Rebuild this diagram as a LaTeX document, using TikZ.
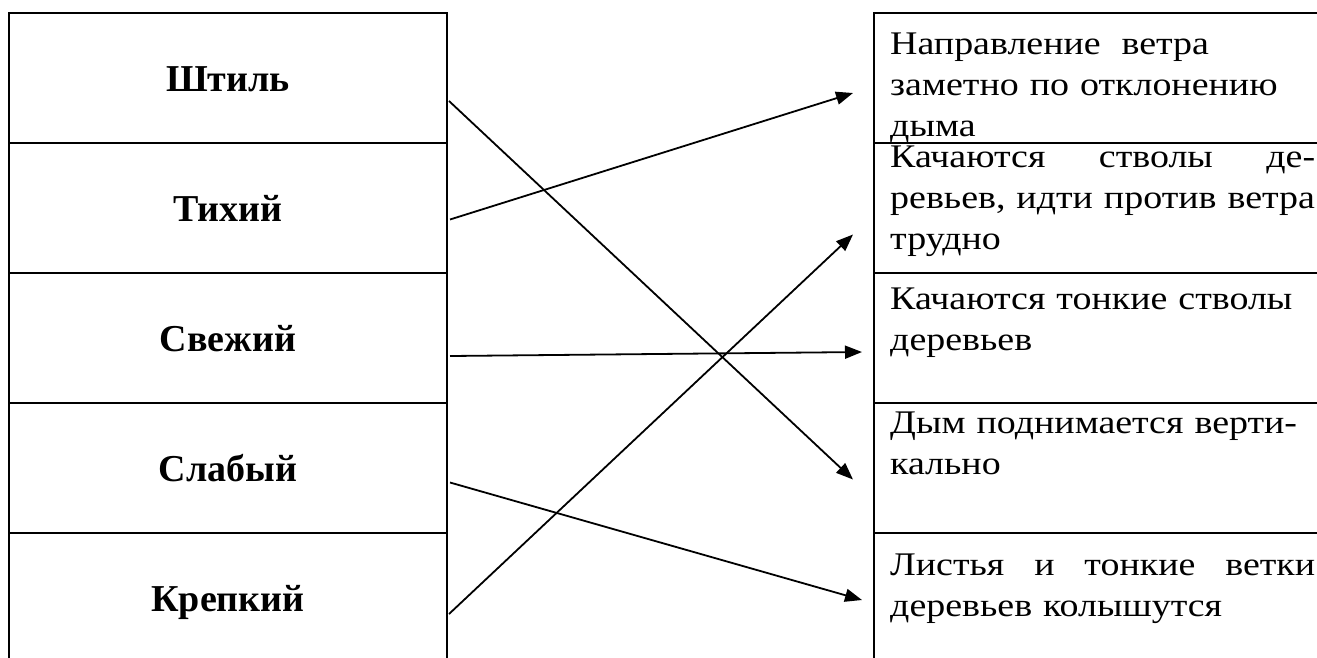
\documentclass[tikz,border=0pt]{standalone}
\usepackage{fontspec}
\setmainfont{Liberation Serif}
\newfontfamily\signfont[FakeStretch=1.15]{Liberation Serif}
\usepackage{tikz}
\usetikzlibrary{arrows.meta, positioning, calc}

\newcommand{\justline}[1]{\makebox[425pt][l]{#1}}

\begin{document}
\begin{tikzpicture}[x=1pt, y=-1pt,
    cell/.style={draw, line width=2pt, rectangle, inner sep=0pt, outer sep=0pt, minimum height=130pt},
    lcell/.style={cell, minimum width=438pt},
    rcell/.style={cell, minimum width=470pt},
    wind/.style={font=\fontsize{38}{44}\selectfont\bfseries, inner sep=0pt, anchor=base},
    sign/.style={font=\signfont\fontsize{33}{41}\selectfont, inner sep=0pt, anchor=north west, text width=425pt, align=left},
    conn/.style={line width=1.8pt, -{Triangle[length=17pt, width=13pt]}}]
                    \useasboundingbox (0,0) rectangle (1317,657);
                    \clip (0,0) rectangle (1317,657);
                    \node[lcell](l1) at (228,78){};
                    \node[lcell, below=0pt of l1](l2){};
                    \node[lcell, below=0pt of l2](l3){};
                    \node[lcell, below=0pt of l3](l4){};
                    \node[lcell, below=0pt of l4](l5){};
                    \node[rcell, right=427pt of l1.east, anchor=west](r1){};
                    \node[rcell, below=0pt of r1](r2){};
                    \node[rcell, below=0pt of r2](r3){};
                    \node[rcell, below=0pt of r3](r4){};
                    \node[rcell, below=0pt of r4](r5){};
                    % wind names
                    \node[wind](w1) at ($(l1)+(0,13)$){Штиль};
                    \node[wind](w2) at ($(l2)+(0,13)$){Тихий};
                    \node[wind](w3) at ($(l3)+(0,13)$){Свежий};
                    \node[wind](w4) at ($(l4)+(0,13)$){Слабый};
                    \node[wind](w5) at ($(l5)+(0,13)$){Крепкий};
                    % signs
                    \node[sign](t1) at ($(r1.north west)+(16,20)$){Направление\hspace{0.3em} ветра\\заметно по отклонению\\дыма};
                    \node[sign](t2) at ($(r2.north west)+(16,3)$){\justline{Качаются\hfill стволы\hfill де-}\\ревьев, идти против ветра\\трудно};
                    \node[sign](t3) at ($(r3.north west)+(16,15)$){Качаются тонкие стволы\\деревьев};
                    \node[sign](t4) at ($(r4.north west)+(16,9)$){Дым поднимается верти-\\кально};
                    \node[sign](t5) at ($(r5.north west)+(16,21)$){\justline{Листья\hfill и\hfill тонкие\hfill ветки}\\деревьев колышутся};
                    \draw[conn] ($(l1.east)+(2,23)$) -- ($(r4.west)+(-21,11.5)$);
                    \draw[conn] ($(l2.east)+(3,11.5)$) -- ($(r1.west)+(-21,15)$);
                    \draw[conn] ($(l3.east)+(3,18)$) -- ($(r3.west)+(-12,14)$);
                    \draw[conn] ($(l4.east)+(3,14.5)$) -- ($(r5.west)+(-12,2)$);
                    \draw[conn] ($(l5.east)+(2,16)$) -- ($(r2.west)+(-21,26.5)$);
                \end{tikzpicture}
\end{document}
